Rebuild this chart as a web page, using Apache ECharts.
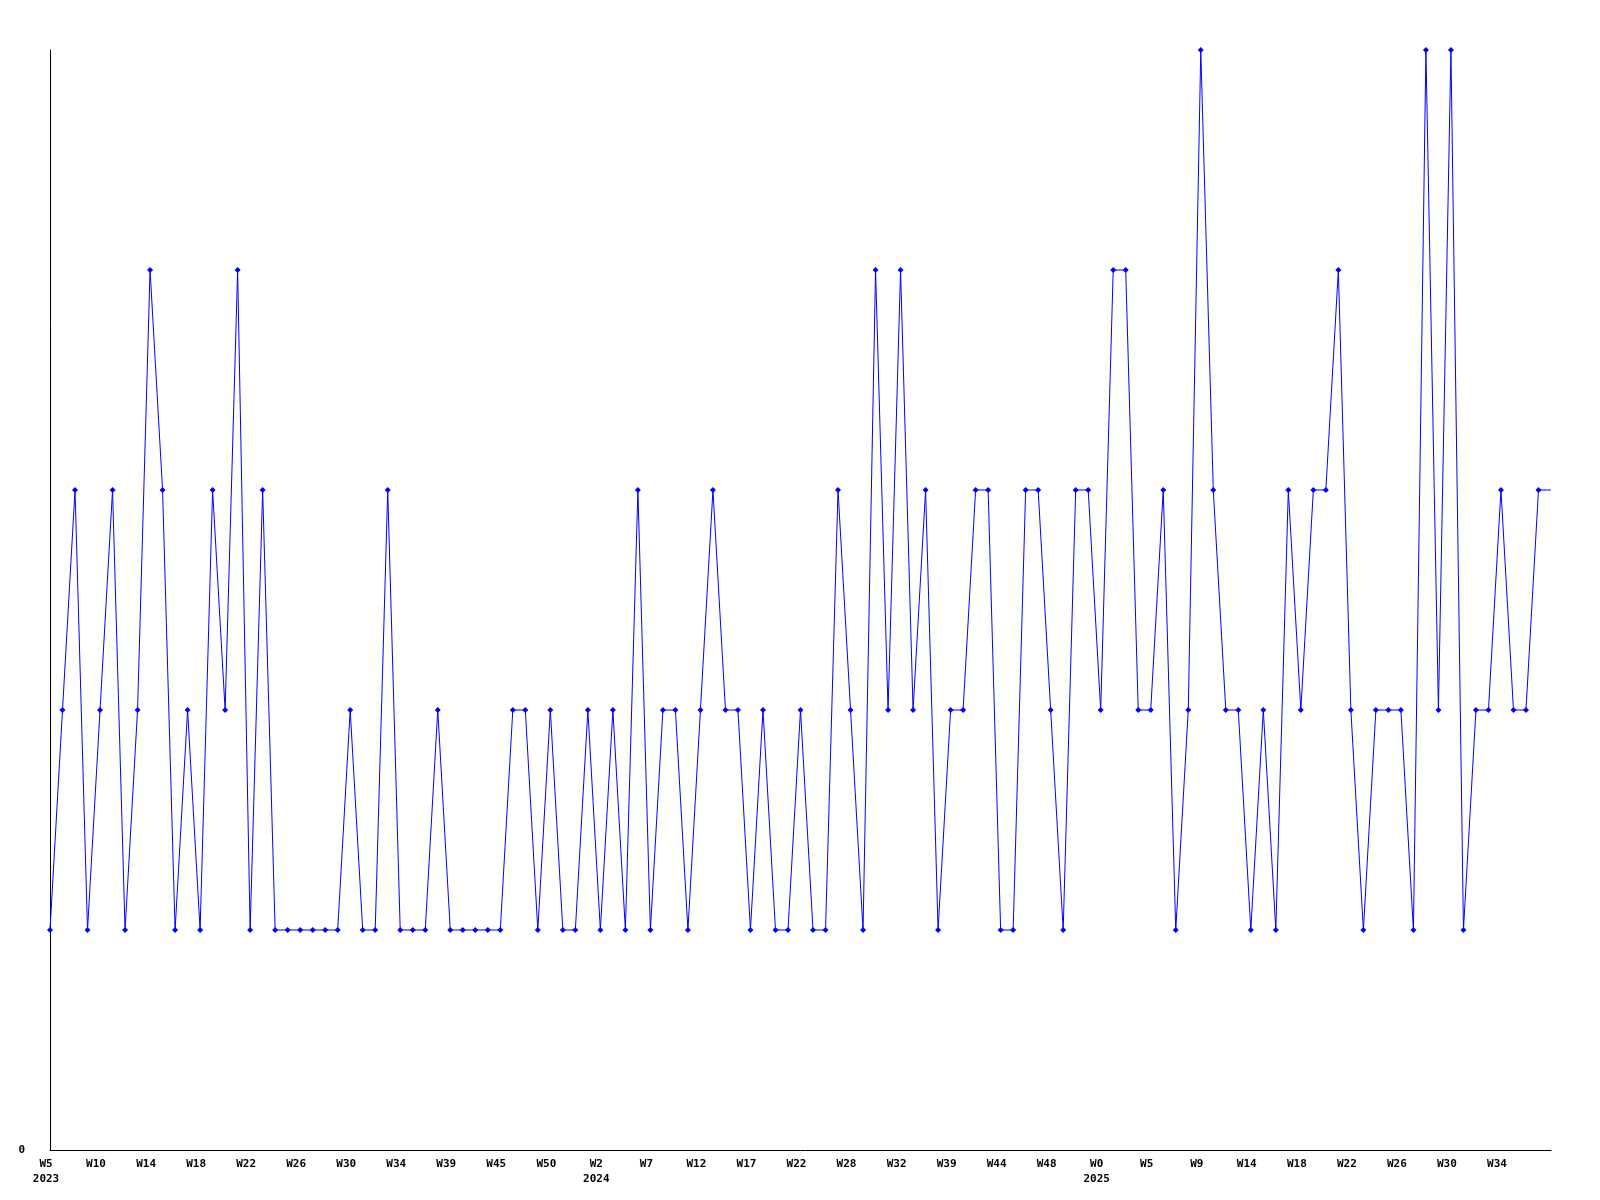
<!DOCTYPE html>
<html>
<head>
<meta charset="utf-8">
<script src="https://cdn.jsdelivr.net/npm/echarts@6/dist/echarts.min.js"></script>
<style>
html,body{margin:0;padding:0;background:#fff;}
#chart{width:1600px;height:1200px;}
</style>
</head>
<body>
<div id="chart"></div>
<script>
const weekLabels = [
  'W5','W6','W7','W8','W10','W11','W12','W13','W14','W15','W16','W17',
  'W18','W19','W20','W21','W22','W23','W24','W25','W26','W27','W28','W29',
  'W30','W31','W32','W33','W34','W35','W36','W37','W39','W40','W42','W43',
  'W45','W46','W47','W49','W50','W51','W52','W1','W2','W3','W5','W6',
  'W7','W9','W10','W11','W12','W13','W14','W16','W17','W18','W20','W21',
  'W22','W24','W26','W27','W28','W29','W30','W31','W32','W34','W36','W37',
  'W39','W40','W41','W43','W44','W45','W46','W47','W48','W49','W50','W52',
  'W0','W1','W3','W4','W5','W6','W7','W8','W9','W10','W12','W13',
  'W14','W15','W16','W17','W18','W19','W20','W21','W22','W23','W24','W25',
  'W26','W27','W28','W29','W30','W31','W32','W33','W34','W35','W36','W37','W38'
];
const weekYears = [
  2023,2023,2023,2023,2023,2023,2023,2023,2023,2023,2023,2023,
  2023,2023,2023,2023,2023,2023,2023,2023,2023,2023,2023,2023,
  2023,2023,2023,2023,2023,2023,2023,2023,2023,2023,2023,2023,
  2023,2023,2023,2023,2023,2023,2023,2024,2024,2024,2024,2024,
  2024,2024,2024,2024,2024,2024,2024,2024,2024,2024,2024,2024,
  2024,2024,2024,2024,2024,2024,2024,2024,2024,2024,2024,2024,
  2024,2024,2024,2024,2024,2024,2024,2024,2024,2024,2024,2024,
  2025,2025,2025,2025,2025,2025,2025,2025,2025,2025,2025,2025,
  2025,2025,2025,2025,2025,2025,2025,2025,2025,2025,2025,2025,
  2025,2025,2025,2025,2025,2025,2025,2025,2025,2025,2025,2025,2025
];
const values = [
  1,2,3,1,2,3,1,2,4,3,1,2,
  1,3,2,4,1,3,1,1,1,1,1,1,
  2,1,1,3,1,1,1,2,1,1,1,1,
  1,2,2,1,2,1,1,2,1,2,1,3,
  1,2,2,1,2,3,2,2,1,2,1,1,
  2,1,1,3,2,1,4,2,4,2,3,1,
  2,2,3,3,1,1,3,3,2,1,3,3,
  2,4,4,2,2,3,1,2,5,3,2,2,
  1,2,1,3,2,3,3,4,2,1,2,2,
  2,1,5,2,5,1,2,2,3,2,2,3,3
];
const yTicks = [0];

const chart = echarts.init(document.getElementById('chart'), null, {renderer: 'canvas'});
const lastIdx = values.length - 1;
const seriesData = values.map((v, i) => i === lastIdx ? {value: v, symbol: 'none'} : v);

chart.setOption({
  animation: false,
  backgroundColor: '#ffffff',
  grid: {left: 50, right: 49, top: 50, bottom: 50, containLabel: false},
  xAxis: {
    type: 'category',
    data: weekLabels,
    boundaryGap: false,
    axisLine: {show: true, lineStyle: {color: '#000', width: 1}},
    axisTick: {show: false},
    splitLine: {show: false},
    axisLabel: {
      interval: 3,
      showMaxLabel: false,
      margin: 7,
      color: '#000',
      fontFamily: 'DejaVu Sans Mono',
      fontWeight: 'bold',
      fontSize: 11,
      lineHeight: 15,
      padding: [0, 8, 0, 0],
      formatter: function (val, idx) {
        if (idx === 0 || weekYears[idx] !== weekYears[idx - 4]) {
          return val + '\n' + weekYears[idx];
        }
        return val;
      }
    }
  },
  yAxis: {
    type: 'value',
    min: 0,
    max: 5,
    interval: 5,
    axisLine: {show: true, lineStyle: {color: '#000', width: 1}},
    axisTick: {show: false},
    splitLine: {show: false},
    axisLabel: {
      showMaxLabel: false,
      margin: 25,
      color: '#000',
      fontFamily: 'DejaVu Sans Mono',
      fontWeight: 'bold',
      fontSize: 11,
      formatter: function (v) { return yTicks.indexOf(v) >= 0 ? String(v) : ''; }
    }
  },
  series: [{
    type: 'line',
    data: seriesData,
    symbol: 'diamond',
    symbolSize: 6,
    showSymbol: true,
    showAllSymbol: true,
    lineStyle: {color: '#0000ff', width: 1},
    itemStyle: {color: '#0000ff', borderWidth: 0}
  }]
});
</script>
</body>
</html>
